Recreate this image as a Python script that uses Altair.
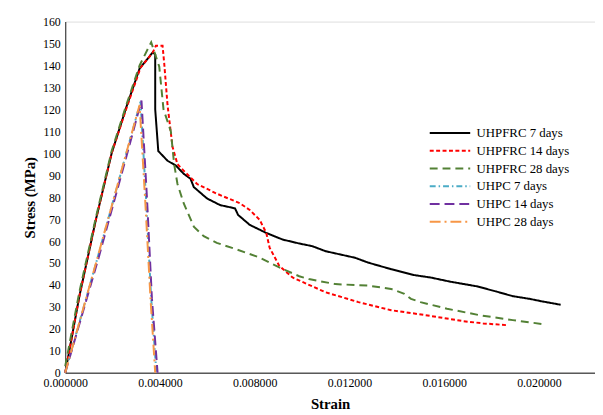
import altair as alt
import pandas as pd

series_names = ["UHPFRC 7 days", "UHPFRC 14 days", "UHPFRC 28 days",
                "UHPC 7 days", "UHPC 14 days", "UHPC 28 days"]
series_colors = ["#000000", "#FF0000", "#538135", "#4BACC6", "#7030A0", "#F79646"]
series_dashes = [[1, 0], [4, 2.5], [8, 5], [6, 3, 1.5, 3], [10, 5], [11, 4, 2, 4]]

frc7_strain = [0, 0.0006, 0.0013, 0.00196, 0.00258, 0.00314, 0.0037, 0.0038, 0.0038, 0.00393,
               0.00432, 0.00467, 0.00501, 0.00529, 0.00543, 0.00599, 0.00654, 0.00717, 0.0073,
               0.00779, 0.00849, 0.00918, 0.00988, 0.01043, 0.01099, 0.01224, 0.01279, 0.01376,
               0.01474, 0.01543, 0.01626, 0.01738, 0.01821, 0.0189, 0.0196, 0.02015, 0.02092]
frc7_stress = [0, 35, 70, 100, 121, 138.6, 146, 145, 120, 101,
               96.6, 94.4, 90.6, 88.4, 84.6, 79.4, 76.4, 74.9, 71.9,
               67.4, 63.7, 60.7, 58.9, 57.7, 55.4, 52.4, 50.2, 47.2,
               44.5, 43.4, 41.5, 39.4, 37.0, 34.9, 33.7, 32.5, 31.0]

frc14_strain = [0, 0.0006, 0.0013, 0.00196, 0.0026, 0.00318, 0.0037, 0.00383, 0.00411, 0.00418,
                0.00432, 0.00453, 0.00474, 0.00501, 0.00529, 0.00557, 0.0064, 0.00738, 0.00779,
                0.00821, 0.00849, 0.00863, 0.00904, 0.0096, 0.01099, 0.01238, 0.01376, 0.01474,
                0.01543, 0.01682, 0.01765, 0.01863]
frc14_stress = [0, 35, 70, 100, 121, 139, 146, 149, 149, 141,
                122, 103, 95, 92, 89, 86, 81.6, 77.2, 74.2,
                69.7, 63.7, 57, 48.7, 43.4, 36.7, 32.2, 28.5, 27,
                25.9, 23.5, 22.5, 21.7]

frc28_strain = [0, 0.0006, 0.0013, 0.00196, 0.00258, 0.00314, 0.00363, 0.00397, 0.00415, 0.00446,
                0.0046, 0.00474, 0.00501, 0.00543, 0.00585, 0.0064, 0.00724, 0.00821, 0.00904,
                0.00988, 0.01029, 0.0114, 0.01279, 0.01376, 0.01432, 0.0146, 0.015, 0.01612,
                0.01751, 0.0189, 0.02015]
frc28_stress = [3, 37, 71, 101, 122, 140, 150.6, 139.5, 120, 110,
                95, 86, 77, 66.6, 62.2, 59.2, 56.2, 52.5, 48,
                44, 42.7, 40.4, 39.7, 38.2, 36, 33.7, 32.2, 29.2,
                26.2, 24, 22.2]

uhpc7_strain = [0, 0.00133, 0.00258, 0.00318, 0.00342, 0.00363, 0.00385]
uhpc7_stress = [0, 51, 100, 123.5, 78, 34, 0]

uhpc14_strain = [0, 0.0014, 0.00262, 0.00322, 0.00345, 0.00366, 0.0039]
uhpc14_stress = [0, 52, 100, 124, 80, 34, 0]

uhpc28_strain = [0, 0.0013, 0.00255, 0.00314, 0.00338, 0.0036, 0.0038]
uhpc28_stress = [0, 50, 99, 122, 78, 34, 0]

x_ticks = [0, 0.004, 0.008, 0.012, 0.016, 0.020]
y_ticks = list(range(0, 161, 10))

all_strain = [frc7_strain, frc14_strain, frc28_strain, uhpc7_strain, uhpc14_strain, uhpc28_strain]
all_stress = [frc7_stress, frc14_stress, frc28_stress, uhpc7_stress, uhpc14_stress, uhpc28_stress]

rows = []
for name, xs, ys in zip(series_names, all_strain, all_stress):
    for i, (x, y) in enumerate(zip(xs, ys)):
        rows.append({"series": name, "strain": x, "stress": y, "idx": i})
df = pd.DataFrame(rows)

font = "Liberation Serif"

legend = alt.Legend(orient="none", legendX=382, legendY=105, title=None,
                    symbolType="M-3,0H3", symbolSize=187,
                    symbolStrokeWidth=2, symbolFillColor="transparent",
                    labelFont=font, labelFontSize=13, labelColor="black",
                    labelOffset=19, rowPadding=3, padding=0)

chart = alt.Chart(df).mark_line(strokeWidth=2).encode(
    x=alt.X("strain:Q",
            scale=alt.Scale(domain=[0, 0.02237], nice=False, zero=True),
            axis=alt.Axis(values=x_ticks, format=".6f", title="Strain", grid=False,
                          ticks=False, tickSize=0, labelPadding=5, titlePadding=8,
                          labelFont=font, labelFontSize=12, labelColor="black",
                          titleFont=font, titleFontSize=15, titleFontWeight="bold",
                          titleColor="black", domainColor="#595959", domainWidth=1.5,
                          labelFlush=False)),
    y=alt.Y("stress:Q",
            scale=alt.Scale(domain=[0, 160], nice=False),
            axis=alt.Axis(values=y_ticks, title="Stress (MPa)", grid=False,
                          ticks=False, tickSize=0, labelPadding=5, titlePadding=5,
                          labelFont=font, labelFontSize=12, labelColor="black",
                          titleFont=font, titleFontSize=15, titleFontWeight="bold",
                          titleColor="black", domainColor="#404040", domainWidth=1.2)),
    color=alt.Color("series:N", sort=series_names,
                    scale=alt.Scale(domain=series_names, range=series_colors),
                    legend=legend),
    strokeDash=alt.StrokeDash("series:N", sort=series_names,
                              scale=alt.Scale(domain=series_names, range=series_dashes),
                              legend=legend),
    order="idx:Q",
).properties(
    width=537, height=356,
    padding={"left": 58, "top": 11, "right": 0, "bottom": 38},
    autosize=alt.AutoSizeParams(type="none"),
).configure_view(stroke=None).configure(background="white")

chart.save("out.html", embed_options={"renderer": "svg", "actions": False})
